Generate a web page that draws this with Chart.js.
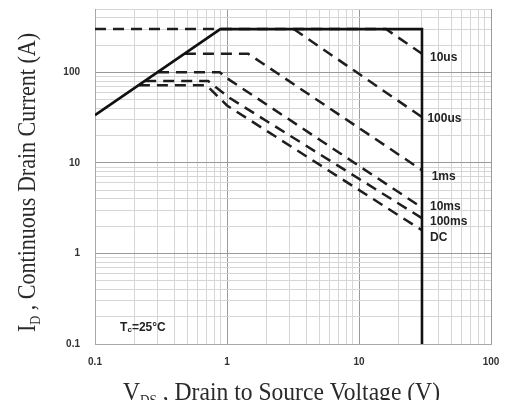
<!DOCTYPE html>
<html><head><meta charset="utf-8">
<script src="https://cdn.jsdelivr.net/npm/chart.js@4.4.0/dist/chart.umd.min.js"></script>
<style>html,body{margin:0;padding:0;background:#fff;}#wrap{width:507px;height:400px;position:relative;}</style>
</head><body><div id="wrap"><canvas id="c" width="507" height="400"></canvas></div>
<script>
// ---- data ----
const xMajorTicks = [0.1, 1, 10, 100];
const yMajorTicks = [0.1, 1, 10, 100];
const xTickLabels = ['0.1', '1', '10', '100'];
const yTickLabels = ['0.1', '1', '10', '100'];

const boundaryX = [0.1, 0.89, 30, 30];
const boundaryY = [33.6, 300, 300, 0.1];
const us10X = [0.1, 16, 30];
const us10Y = [300, 300, 160];
const us100X = [3.2, 30];
const us100Y = [300, 32];
const ms1X = [0.48, 1.45, 30];
const ms1Y = [160, 160, 8.3];
const ms10X = [0.3, 0.88, 1.05, 30];
const ms10Y = [100, 100, 82, 3.2];
const ms100X = [0.24, 0.72, 1.05, 30];
const ms100Y = [80, 80, 52, 2.45];
const dcX = [0.215, 0.7, 1.0, 30];
const dcY = [72, 72, 43, 1.8];

const curveLabels = ['10us', '100us', '1ms', '10ms', '100ms', 'DC'];
const curveLabelX = [34.5, 33, 35.5, 34.5, 34.5, 34.5];
const curveLabelY = [146, 31, 7.1, 3.25, 2.22, 1.48];
const noteText = 'T|c|=25°C';
const noteX = 0.155, noteY = 0.15;

const pts = (xs, ys) => xs.map((x, i) => ({x, y: ys[i]}));

function minorTicks(min, max) {
  const out = [];
  for (let e = Math.floor(Math.log10(min)); e <= Math.ceil(Math.log10(max)); e++) {
    for (let m = 1; m <= 9; m++) {
      const v = +(m * Math.pow(10, e)).toPrecision(6);
      if (v >= min - 1e-9 && v <= max + 1e-9) out.push(v);
    }
  }
  return out;
}
const isMajor = (list, v) => list.some(m => Math.abs(m - v) / m < 1e-6);
const SANS = '"Liberation Sans", Arial, sans-serif';
const SERIF = '"Liberation Serif", "Times New Roman", serif';

const dashStyle = {borderColor: '#1e1e1e', borderWidth: 2.5, borderDash: [11, 7], pointRadius: 0, fill: false, tension: 0, order: 1};

const overlay = {
  id: 'overlay',
  afterDatasetsDraw(chart) {
    const ctx = chart.ctx, xs = chart.scales.x, ys = chart.scales.y;
    const area = chart.chartArea;
    ctx.save();
    // tick labels
    ctx.fillStyle = '#333';
    ctx.font = 'bold 10px ' + SANS;
    ctx.textBaseline = 'middle';
    ctx.textAlign = 'center';
    xMajorTicks.forEach((v, i) => ctx.fillText(xTickLabels[i], xs.getPixelForValue(v), area.bottom + 18));
    ctx.textAlign = 'right';
    yMajorTicks.forEach((v, i) => ctx.fillText(yTickLabels[i], area.left - 15, ys.getPixelForValue(v)));

    // curve labels
    ctx.fillStyle = '#222';
    ctx.font = 'bold 12px ' + SANS;
    ctx.textAlign = 'left';
    curveLabels.forEach((t, i) => {
      ctx.fillText(t, xs.getPixelForValue(curveLabelX[i]), ys.getPixelForValue(curveLabelY[i]));
    });
    // Tc note
    const parts = noteText.split('|');
    let px = xs.getPixelForValue(noteX), py = ys.getPixelForValue(noteY);
    ctx.font = 'bold 12px ' + SANS;
    ctx.fillText(parts[0], px, py); px += ctx.measureText(parts[0]).width;
    ctx.font = 'bold 8px ' + SANS;
    ctx.fillText(parts[1], px, py + 2); px += ctx.measureText(parts[1]).width;
    ctx.font = 'bold 12px ' + SANS;
    ctx.fillText(parts[2], px, py);

    // axis titles
    function drawRich(segs, targetW) {
      let w = 0;
      segs.forEach(s => { ctx.font = s.size + 'px ' + SERIF; s.w = ctx.measureText(s.t).width; w += s.w; });
      const k = targetW / w;
      ctx.scale(k, 1);
      let x = -w / 2;
      segs.forEach(s => { ctx.font = s.size + 'px ' + SERIF; ctx.fillText(s.t, x, s.dy || 0); x += s.w; });
    }
    ctx.fillStyle = '#2a2a2a';
    ctx.textAlign = 'left';
    ctx.textBaseline = 'alphabetic';
    ctx.save();
    ctx.translate(35, 182.5);
    ctx.rotate(-Math.PI / 2);
    drawRich([{t: 'I', size: 25}, {t: 'D', size: 14, dy: 5}, {t: ' , Continuous Drain Current (A)', size: 25}], 299);
    ctx.restore();
    ctx.save();
    ctx.translate(281.5, 400);
    drawRich([{t: 'V', size: 25}, {t: 'DS', size: 14, dy: 5}, {t: ' , Drain to Source Voltage (V)', size: 25}], 317);
    ctx.restore();
    ctx.restore();
  }
};

new Chart(document.getElementById('c'), {
  type: 'line',
  data: {
    datasets: [
      {label: 'SOA', data: pts(boundaryX, boundaryY), borderColor: '#111', borderWidth: 2.6, pointRadius: 0, fill: false, tension: 0, order: 0},
      Object.assign({label: '10us', data: pts(us10X, us10Y)}, dashStyle),
      Object.assign({label: '100us', data: pts(us100X, us100Y)}, dashStyle),
      Object.assign({label: '1ms', data: pts(ms1X, ms1Y)}, dashStyle),
      Object.assign({label: '10ms', data: pts(ms10X, ms10Y)}, dashStyle),
      Object.assign({label: '100ms', data: pts(ms100X, ms100Y)}, dashStyle),
      Object.assign({label: 'DC', data: pts(dcX, dcY)}, dashStyle)
    ]
  },
  options: {
    responsive: false,
    animation: false,
    events: [],
    layout: {padding: {top: 9, right: 16, left: 0, bottom: 0}},
    plugins: {legend: {display: false}, tooltip: {enabled: false}},
    scales: {
      x: {
        type: 'logarithmic', min: 0.1, max: 100,
        afterBuildTicks: s => { s.ticks = minorTicks(0.1, 100).map(v => ({value: v})); },
        afterFit: s => { s.height = 56; },
        border: {display: true, color: '#a8a8a8'},
        grid: {drawTicks: false, lineWidth: 1, color: c => (c.tick && isMajor(xMajorTicks, c.tick.value)) ? '#9a9a9a' : '#d6d6d6'},
        ticks: {display: false, autoSkip: false}
      },
      y: {
        type: 'logarithmic', min: 0.1, max: 500,
        afterBuildTicks: s => { s.ticks = minorTicks(0.1, 500).map(v => ({value: v})); },
        afterFit: s => { s.width = 95; },
        border: {display: true, color: '#a8a8a8'},
        grid: {drawTicks: false, lineWidth: 1, color: c => (c.tick && isMajor(yMajorTicks, c.tick.value)) ? '#9a9a9a' : '#d6d6d6'},
        ticks: {display: false, autoSkip: false}
      }
    }
  },
  plugins: [overlay]
});
</script></body></html>
